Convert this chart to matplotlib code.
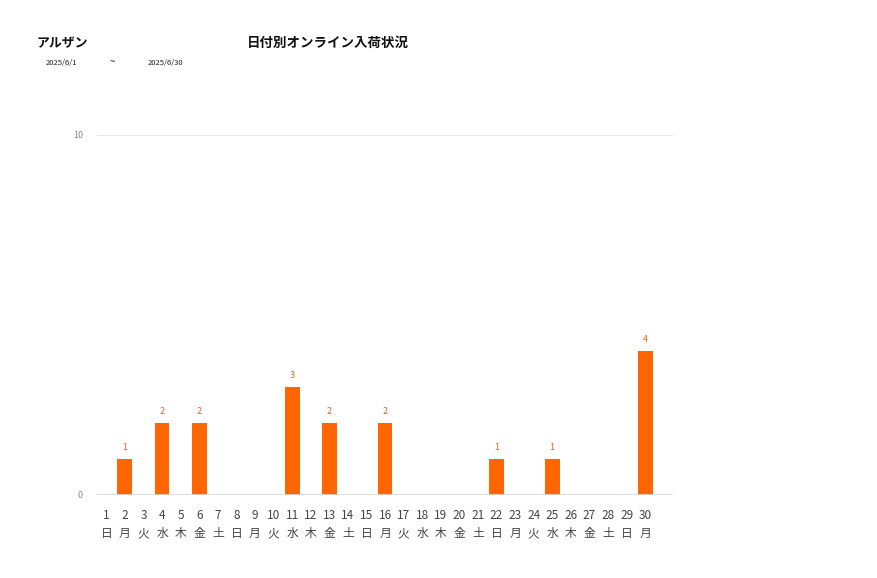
import matplotlib
matplotlib.use('Agg')
import matplotlib.pyplot as plt

plt.rcParams['font.family'] = ['Noto Sans CJK JP', 'DejaVu Sans']

# data
days = [str(d) for d in range(1, 31)]
weekdays = ['日', '月', '火', '水', '木', '金', '土'] * 5
weekdays = weekdays[:30]
counts = [0, 1, 0, 2, 0, 2, 0, 0, 0, 0,
          3, 0, 2, 0, 0, 2, 0, 0, 0, 0,
          0, 1, 0, 0, 1, 0, 0, 0, 0, 4]
shop_name = 'アルザン'
chart_title = '日付別オンライン入荷状況'
date_from = '2025/6/1'
date_to = '2025/6/30'

W, H = 877, 578
fig = plt.figure(figsize=(W / 100, H / 100), dpi=100)
# axes box in pixels: left 97, right 673, top 135, bottom 495
ax = fig.add_axes([97 / W, (H - 495) / H, (673 - 97) / W, (495 - 135) / H])

x = list(range(len(days)))
bars = ax.bar(x, counts, width=0.8, color='#FF6600', zorder=3)
for xi, v in zip(x, counts):
    if v > 0:
        ax.text(xi, v + 0.2, str(v), ha='center', va='bottom',
                fontsize=6.5, color='#E8651E')

ax.set_xlim(-0.5, 30.5)
ax.set_ylim(0, 10)
ax.set_yticks([0, 10])
ax.set_yticklabels(['0', '10'], fontsize=6.5, color='#888888')
ax.set_xticks(x)
ax.set_xticklabels([f'{d}\n{w}' for d, w in zip(days, weekdays)],
                   fontsize=8.5, color='#444444', linespacing=1.55)
ax.tick_params(axis='both', length=0)
ax.tick_params(axis='x', pad=10)
ax.tick_params(axis='y', pad=10)
ax.axhline(10, color='#E0E0E0', lw=1.2, zorder=1)
ax.axhline(0, color='#D8D8D8', lw=1.2, zorder=4)
for s in ax.spines.values():
    s.set_visible(False)

fig.text(37 / W, 1 - 43 / H, shop_name, fontsize=9.3, fontweight='bold',
         ha='left', va='center', color='#111111')
fig.text(328 / W, 1 - 43 / H, chart_title, fontsize=9.7, fontweight='bold',
         ha='center', va='center', color='#111111')
fig.text(46 / W, 1 - 63 / H, date_from, fontsize=5.5, ha='left',
         va='center', color='#222222')
fig.text(110 / W, 1 - 62 / H, '~', fontsize=7, ha='left',
         va='center', color='#222222')
fig.text(148 / W, 1 - 63 / H, date_to, fontsize=5.5, ha='left',
         va='center', color='#222222')

fig.savefig('out.png', dpi=100)
